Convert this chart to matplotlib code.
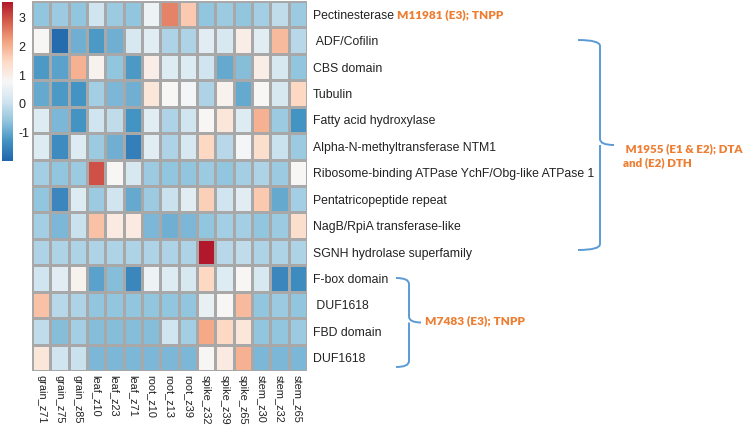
import numpy as np
import matplotlib
matplotlib.use("Agg")
import matplotlib.pyplot as plt
from matplotlib.colors import LinearSegmentedColormap
from matplotlib.path import Path
from matplotlib.patches import PathPatch

samples = ["grain_z71", "grain_z75", "grain_z85", "leaf_z10", "leaf_z23", "leaf_z71",
           "root_z10", "root_z13", "root_z39", "spike_z32", "spike_z39", "spike_z65",
           "stem_z30", "stem_z32", "stem_z65"]
genes = ["Pectinesterase", " ADF/Cofilin", "CBS domain", "Tubulin", "Fatty acid hydroxylase",
         "Alpha-N-methyltransferase NTM1", "Ribosome-binding ATPase YchF/Obg-like ATPase 1",
         "Pentatricopeptide repeat", "NagB/RpiA transferase-like", "SGNH hydrolase superfamily",
         "F-box domain", " DUF1618", "FBD domain", "DUF1618"]

values = [
    [-0.6, -0.5, -0.6, 0.1, -0.5, -0.6, 0.6, 2.5, 1.7, -0.6, -0.5, -0.6, -0.4, -0.1, -0.5],
    [0.8, -1.9, -0.9, -1.2, -0.9, 0.2, 0.4, -0.3, -0.3, 0.4, 0.2, 1.0, 0.4, 1.9, -0.2],
    [-1.2, -1.1, 2.0, 0.9, -0.6, -1.2, 1.0, 0.3, 0.3, 0.1, -1.0, -0.7, 1.0, 0.2, -0.6],
    [-1.0, -1.2, -1.3, -0.4, -0.8, -0.9, 1.2, 0.8, 0.7, -0.3, 0.9, -1.0, 0.8, 0.2, 1.5],
    [0.3, -0.8, -1.3, 0.1, -0.1, -1.3, 0.4, -0.3, 0.1, 0.8, 1.2, 0.3, 2.0, -0.5, -1.3],
    [0.3, -1.4, 0.3, -0.5, -0.9, -1.6, 0.4, -0.3, 0.2, 1.5, -0.2, 0.7, 1.4, 0.0, -0.5],
    [-0.4, -0.6, -0.5, 3.0, 0.8, 0.2, -0.5, -0.6, -0.6, -0.5, -0.6, -0.4, -0.3, -0.5, 0.8],
    [-0.6, -1.5, 0.3, -0.5, 0.1, -1.0, -0.5, 0.0, 0.4, 1.6, 0.1, 0.4, 1.7, -1.0, -0.4],
    [-0.4, -0.8, 0.0, 1.8, 1.1, 1.1, -0.8, -0.9, -0.8, -0.6, -0.4, -0.4, -0.6, -0.5, 1.4],
    [-0.3, -0.3, -0.3, -0.3, -0.3, -0.3, -0.3, -0.3, -0.3, 3.55, -0.2, -0.1, -0.3, -0.3, -0.3],
    [0.1, 0.4, 0.9, -1.1, -0.7, -1.5, 0.6, 0.3, 0.2, 1.5, 0.3, 0.8, 0.2, -1.5, -1.4],
    [1.8, -0.2, -0.3, -0.6, -0.6, -0.6, -0.6, -0.6, -0.6, 0.5, 0.8, 1.9, -0.6, -0.5, -0.6],
    [-0.1, -0.7, -0.4, -0.7, -0.7, -0.7, -0.7, 0.1, -0.4, 2.1, 1.5, 1.2, -0.6, -0.6, -0.5],
    [1.2, 0.1, 0.0, -0.8, -0.8, -0.8, -0.8, -0.8, -0.8, 0.8, 1.1, 2.0, -0.8, -0.8, -0.8],
]
cbar_ticks = [-1, 0, 1, 2, 3]
vmin, vmax = -2.0, 3.55

annot_labels = ["M11981 (E3); TNPP", " M1955 (E1 & E2); DTA\nand (E2) DTH", "M7483 (E3); TNPP"]

cmap = LinearSegmentedColormap.from_list(
    "rdbu9", ["#2166ac", "#4393c3", "#92c5de", "#d1e5f0", "#f7f7f7",
              "#fddbc7", "#f4a582", "#d6604d", "#b2182b"], N=256)

W, H = 746, 426
fig = plt.figure(figsize=(W / 100, H / 100), dpi=100)
plt.rcParams['font.family'] = ['Liberation Sans', 'DejaVu Sans']

def fax(l, t, r, b):
    return fig.add_axes([l / W, 1 - b / H, (r - l) / W, (b - t) / H])

ax = fax(32, 1, 307, 371)
data = np.array(values)
nr, nc = data.shape
ax.pcolormesh(np.arange(nc + 1), np.arange(nr + 1), data, cmap=cmap, vmin=vmin, vmax=vmax,
              edgecolor="#a8a8a8", linewidth=0.9)
ax.set_xlim(0, nc)
ax.set_ylim(nr, 0)
ax.set_xticks(np.arange(nc) + 0.5)
ax.set_xticklabels(samples, rotation=270, fontsize=7.9, color="#222222")
ax.set_yticks(np.arange(nr) + 0.5)
ax.set_yticklabels(genes, fontsize=8.8, color="#222222")
ax.yaxis.tick_right()
ax.tick_params(axis="y", length=0, pad=4)
ax.tick_params(axis="x", length=0, pad=3)
for s in ax.spines.values():
    s.set_visible(False)

cax = fax(2, 2, 13, 161)
grad = np.linspace(vmin, vmax, 256).reshape(-1, 1)
cax.imshow(grad, aspect="auto", cmap=cmap, origin="lower", extent=[0, 1, vmin, vmax])
cax.set_xticks([])
cax.yaxis.tick_right()
cax.set_yticks(cbar_ticks)
cax.set_yticklabels([str(t) for t in cbar_ticks], fontsize=9, color="#222222")
cax.tick_params(length=0, pad=4)
for s in cax.spines.values():
    s.set_visible(False)

# overlay for annotations
ov = fig.add_axes([0, 0, 1, 1])
ov.set_xlim(0, W)
ov.set_ylim(H, 0)
ov.axis("off")

orange = "#ed7d31"
bcol = "#5b9bd5"
afam = ["Lato", "DejaVu Sans"]

def brace(x0, ytop, ybot, xtip, xmid):
    ym = (ytop + ybot) / 2
    r = 6
    verts = [(x0, ytop), (xmid, ytop), (xmid, ytop + r), (xmid, ym - r),
             (xmid, ym), (xtip, ym), (xmid, ym), (xmid, ym + r), (xmid, ybot - r),
             (xmid, ybot), (x0, ybot)]
    codes = [Path.MOVETO, Path.CURVE3, Path.CURVE3, Path.LINETO,
             Path.CURVE3, Path.CURVE3, Path.MOVETO, Path.CURVE3, Path.LINETO,
             Path.CURVE3, Path.CURVE3]
    ov.add_patch(PathPatch(Path(verts, codes), fill=False, edgecolor=bcol, lw=1.4))

ov.text(397, 15, annot_labels[0], color=orange, fontsize=8.6, fontweight="heavy",
        family=afam, va="center", ha="left")
brace(578, 40, 250, 614, 600)
ov.text(623, 156, annot_labels[1], color=orange, fontsize=8.3, fontweight="heavy",
        family=afam, va="center", ha="left", linespacing=1.35)
brace(396, 278, 367, 421, 409)
ov.text(425, 321, annot_labels[2], color=orange, fontsize=8.6, fontweight="heavy",
        family=afam, va="center", ha="left")

fig.savefig("out.png", dpi=100)
